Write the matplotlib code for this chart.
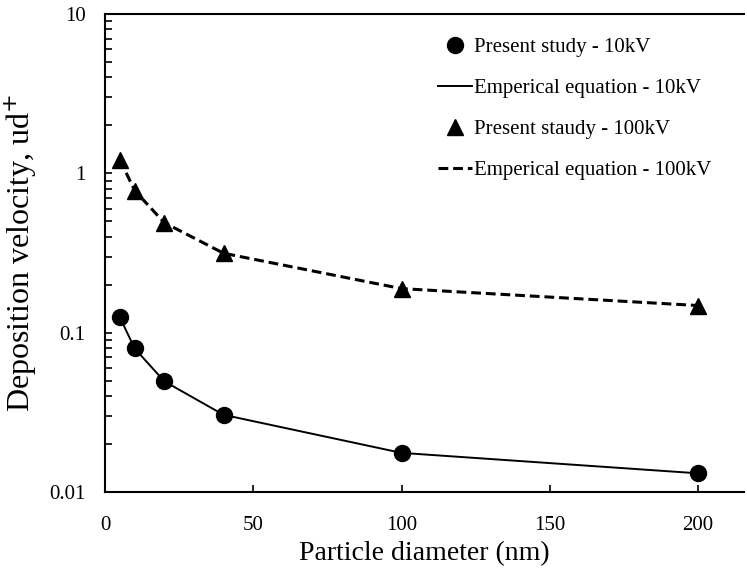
import matplotlib.pyplot as plt
import numpy as np
from matplotlib.ticker import LogLocator, NullFormatter

plt.rcParams['font.family'] = ['Liberation Serif', 'DejaVu Serif']

# particle diameter (nm)
diameter = [5, 10, 20, 40, 100, 200]

# deposition velocity, present study and empirical equation
study_10kv = [0.125, 0.0796, 0.0495, 0.0305, 0.0176, 0.0131]
emp_10kv = [0.125, 0.0796, 0.0495, 0.0305, 0.0176, 0.0131]
study_100kv = [1.22, 0.78, 0.49, 0.315, 0.189, 0.148]
emp_100kv = [1.22, 0.78, 0.49, 0.315, 0.189, 0.148]

x_ticks = [0, 50, 100, 150, 200]
y_ticks = [0.01, 0.1, 1, 10]
y_ticklabels = ['0.01', '0.1', '1', '10']

fig = plt.figure(figsize=(7.47, 5.68), dpi=100)
ax = fig.add_axes([105 / 747, (568 - 492) / 568, (744 - 105) / 747, (492 - 14) / 568])

ax.plot(diameter, study_10kv, 'o', color='black', ms=11.5, label='Present study - 10kV', zorder=3)
ax.plot(diameter, emp_10kv, '-', color='black', lw=1.4, label='Emperical equation - 10kV')
ax.plot(diameter, study_100kv, '^', color='black', ms=11.5, label='Present staudy - 100kV', zorder=3)
ax.plot(diameter, emp_100kv, '--', color='black', lw=2.2, dashes=(3.2, 1.6),
        label='Emperical equation - 100kV')

ax.set_yscale('log')
ax.set_ylim(0.01, 10)
ax.set_xlim(0, 200 * (744 - 105) / (698 - 105))
ax.set_xticks(x_ticks)
ax.set_xticklabels([str(v) for v in x_ticks])
ax.set_yticks(y_ticks)
ax.set_yticklabels(y_ticklabels)
ax.yaxis.set_minor_locator(LogLocator(base=10, subs=np.arange(2, 10)))
ax.yaxis.set_minor_formatter(NullFormatter())

ax.tick_params(axis='both', which='both', direction='in', labelsize=15, width=1.2)
ax.tick_params(axis='x', which='major', length=5, pad=17)
ax.tick_params(axis='y', which='major', length=5, pad=14)
ax.tick_params(axis='y', which='minor', length=5)
ax.tick_params(axis='x', which='minor', bottom=False)

for s in ['left', 'bottom', 'top']:
    ax.spines[s].set_linewidth(1.5)
ax.spines['right'].set_visible(False)

ax.set_xlabel('Particle diameter (nm)', fontsize=20, labelpad=5)
ax.set_ylabel('Deposition velocity, ud$^{+}$', fontsize=23, labelpad=7)

ax.legend(loc='upper right', bbox_to_anchor=(0.978, 0.99), frameon=False, fontsize=15,
          labelspacing=1.03, handlelength=1.6, handletextpad=0.1)

fig.savefig('out.png', dpi=100)
